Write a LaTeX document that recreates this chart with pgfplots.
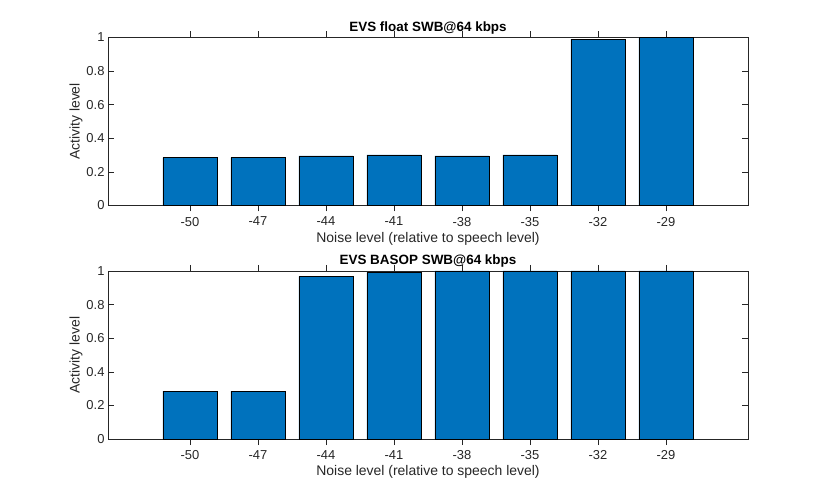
\documentclass[border=0pt]{standalone}
\usepackage{fontspec}
\setmainfont{Liberation Sans}
\usepackage{pgfplots}
\pgfplotsset{compat=1.18}
\definecolor{mblue}{RGB}{0,114,189}
\definecolor{mgray}{RGB}{38,38,38}
\pgfplotsset{mystyle/.style={
  scale only axis, width=640bp, height=168bp,
  xmin=-1.206, xmax=8.206, ymin=0, ymax=1,
  xtick={0,1,2,3,4,5,6,7},
  xticklabels={-50,-47,-44,-41,-38,-35,-32,-29},
  ytick={0,0.2,0.4,0.6,0.8,1},
  yticklabels={0,0.2,0.4,0.6,0.8,1},
  tick align=inside, major tick length=6bp,
  tick style={mgray, line width=0.5pt},
  axis line style={mgray, line width=0.6pt},
  ticklabel style={font=\fontsize{13}{15}\selectfont, text=mgray},
  xticklabel style={yshift=-2bp},
  xlabel={Noise level (relative to speech level)},
  ylabel={Activity level},
  label style={font=\fontsize{14}{16}\selectfont, text=mgray},
  xlabel style={yshift=1bp},
  ylabel style={yshift=-3bp},
  title style={font=\bfseries\fontsize{13.5}{15}\selectfont, text=black, yshift=-6bp},
  ybar, bar width=54.4bp,
}}
\begin{document}
\begin{tikzpicture}
\path[use as bounding box] (0,0) rectangle (828bp,494bp);
\begin{axis}[mystyle, at={(108bp,288.5bp)}, anchor=south west,
  title={EVS float SWB@64 kbps}]
\addplot[fill=mblue, draw=black, line width=0.5pt] coordinates {(0,0.285) (1,0.285) (2,0.295) (3,0.301) (4,0.295) (5,0.301) (6,0.990) (7,1.0)};
\end{axis}
\begin{axis}[mystyle, at={(108bp,55bp)}, anchor=south west,
  title={EVS BASOP SWB@64 kbps}]
\addplot[fill=mblue, draw=black, line width=0.5pt] coordinates {(0,0.285) (1,0.285) (2,0.968) (3,0.992) (4,1.0) (5,1.0) (6,1.0) (7,1.0)};
\end{axis}
\end{tikzpicture}
\end{document}
